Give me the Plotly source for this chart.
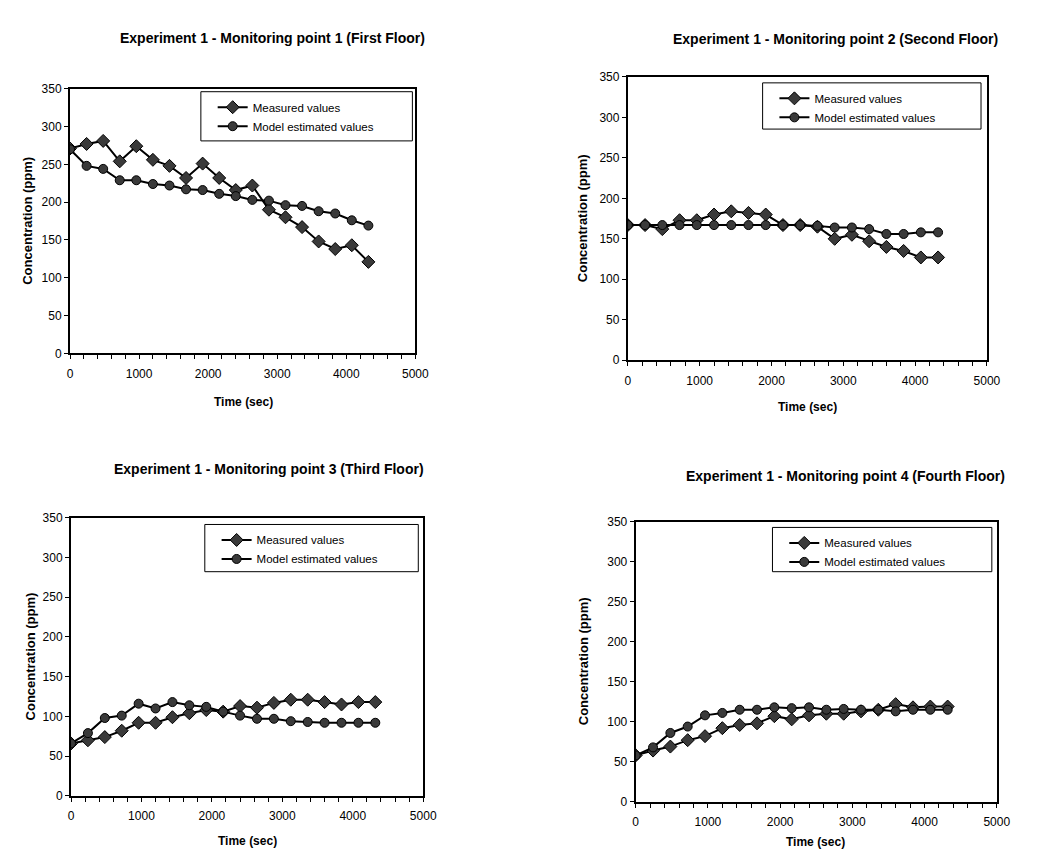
import plotly.graph_objects as go

W, H = 1049, 851

time_sec = [0, 240, 480, 720, 960, 1200, 1440, 1680, 1920, 2160, 2400, 2640,
            2880, 3120, 3360, 3600, 3840, 4080, 4320]

p1_measured = [271, 277, 281, 254, 274, 256, 248, 232, 251, 232, 216, 222,
               190, 180, 167, 148, 138, 143, 121]
p1_model = [270, 248, 244, 229, 229, 224, 222, 217, 216, 211, 208, 203,
            202, 196, 195, 188, 185, 176, 169]

p2_measured = [167, 167, 162, 173, 173, 180, 184, 182, 180, 167, 167, 165,
               150, 155, 147, 140, 135, 127, 127]
p2_model = [167, 167, 167, 167, 167, 167, 167, 167, 167, 167, 167, 166,
            164, 164, 162, 156, 156, 158, 158]

p3_measured = [66, 70, 74, 82, 92, 92, 99, 104, 108, 106, 113, 111, 117,
               121, 121, 118, 115, 118, 118]
p3_model = [66, 79, 98, 101, 116, 110, 118, 114, 112, 106, 101, 97, 97,
            94, 93, 92, 92, 92, 92]

p4_measured = [58, 64, 69, 77, 82, 92, 96, 98, 107, 103, 108, 110, 110,
               113, 115, 122, 118, 119, 119]
p4_model = [58, 68, 86, 94, 108, 111, 115, 115, 118, 117, 118, 115, 116,
            115, 115, 113, 115, 115, 115]

titles = [
    "Experiment 1 - Monitoring point 1 (First Floor)",
    "Experiment 1 - Monitoring point 2 (Second Floor)",
    "Experiment 1 - Monitoring point 3 (Third Floor)",
    "Experiment 1 - Monitoring point 4 (Fourth Floor)",
]
series_names = ["Measured values", "Model estimated values"]
x_title = "Time (sec)"
y_title = "Concentration (ppm)"
x_ticks = [0, 1000, 2000, 3000, 4000, 5000]
y_ticks = [0, 50, 100, 150, 200, 250, 300, 350]

# panel layout in pixels: (left, right, top, bottom)
panels = [
    (60, 411, 75, 344),
    (627, 992, 63, 351),
    (61, 419, 511, 794),
    (635, 1002, 515, 800),
]
title_pos = [(266, 23), (838, 24), (262, 462), (848, 469)]
xtitle_pos = [(236, 393), (810, 399), (240, 840), (818, 841)]
ytitle_x = [16, 581, 20, 582]
# legend boxes (left, top, right, bottom) in pixels
legend_box = [(193, 78, 408, 128), (764, 69, 986, 116),
              (197, 518, 414, 566), (774, 521, 997, 566)]

data = [
    (p1_measured, p1_model),
    (p2_measured, p2_model),
    (p3_measured, p3_model),
    (p4_measured, p4_model),
]

FONT = "Liberation Sans, Arial, sans-serif"

fig = go.Figure()
layout = dict(
    width=W, height=H,
    margin=dict(l=0, r=0, t=0, b=0),
    paper_bgcolor="white", plot_bgcolor="white",
    font=dict(family=FONT, color="black", size=12),
    annotations=[], shapes=[],
)

for i, ((meas, model), (l, r, t, b)) in enumerate(zip(data, panels)):
    n = "" if i == 0 else str(i + 1)
    xa, ya = "x" + n, "y" + n
    lg = "legend" + n
    fig.add_trace(go.Scatter(
        x=time_sec, y=meas, name=series_names[0], mode="lines+markers",
        xaxis=xa, yaxis=ya, legend=lg,
        line=dict(color="black", width=2),
        marker=dict(symbol="diamond", size=10, color="#3a3a3a",
                    line=dict(color="black", width=1)),
    ))
    fig.add_trace(go.Scatter(
        x=time_sec, y=model, name=series_names[1], mode="lines+markers",
        xaxis=xa, yaxis=ya, legend=lg,
        line=dict(color="black", width=2),
        marker=dict(symbol="circle", size=9, color="#3a3a3a",
                    line=dict(color="black", width=1)),
    ))
    common = dict(
        showgrid=False, zeroline=False, showline=True, linecolor="black",
        linewidth=2, mirror=True, ticks="outside", ticklen=4,
        tickcolor="black", tickfont=dict(size=12, family=FONT, color="black"),
    )
    layout["xaxis" + n] = dict(
        common, domain=[l / W, r / W], anchor=ya,
        range=[x_ticks[0], x_ticks[-1]],
        tickmode="linear", tick0=x_ticks[0], dtick=x_ticks[1] - x_ticks[0],
        ticklabelstandoff=4,
        minor=dict(tickmode="linear", tick0=0, dtick=200, ticks="outside",
                   ticklen=4, tickcolor="black", tickwidth=1),
    )
    layout["yaxis" + n] = dict(
        common, domain=[1 - b / H, 1 - t / H], anchor=xa,
        range=[y_ticks[0], y_ticks[-1]],
        tickvals=y_ticks, ticktext=[str(v) for v in y_ticks],
    )
    bl, bt, br, bb = legend_box[i]
    layout["shapes"].append(dict(
        type="rect", xref="paper", yref="paper",
        x0=bl / W, x1=br / W, y0=1 - bb / H, y1=1 - bt / H,
        line=dict(color="black", width=1), fillcolor="white", layer="below",
    ))
    layout[lg] = dict(
        x=(bl + 12) / W, y=1 - (bt + 1) / H, xanchor="left", yanchor="top",
        xref="paper", yref="paper", bgcolor="rgba(0,0,0,0)", borderwidth=0,
        font=dict(size=11.5, family=FONT, color="black"),
        tracegroupgap=0,
    )
    tx, ty = title_pos[i]
    layout["annotations"].append(dict(
        text="<b>" + titles[i] + "</b>", x=tx / W, y=1 - ty / H,
        xref="paper", yref="paper", showarrow=False,
        xanchor="center", yanchor="middle", font=dict(size=14, family=FONT),
    ))
    xx, xy = xtitle_pos[i]
    layout["annotations"].append(dict(
        text="<b>" + x_title + "</b>", x=xx / W, y=1 - xy / H,
        xref="paper", yref="paper", showarrow=False,
        xanchor="center", yanchor="middle", font=dict(size=12, family=FONT),
    ))
    layout["annotations"].append(dict(
        text="<b>" + y_title + "</b>", x=ytitle_x[i] / W,
        y=1 - ((t + b) / 2) / H, xref="paper", yref="paper",
        showarrow=False, textangle=-90, xanchor="center", yanchor="middle",
        font=dict(size=13, family=FONT),
    ))

fig.update_layout(**layout)
fig.write_html("out.html")
